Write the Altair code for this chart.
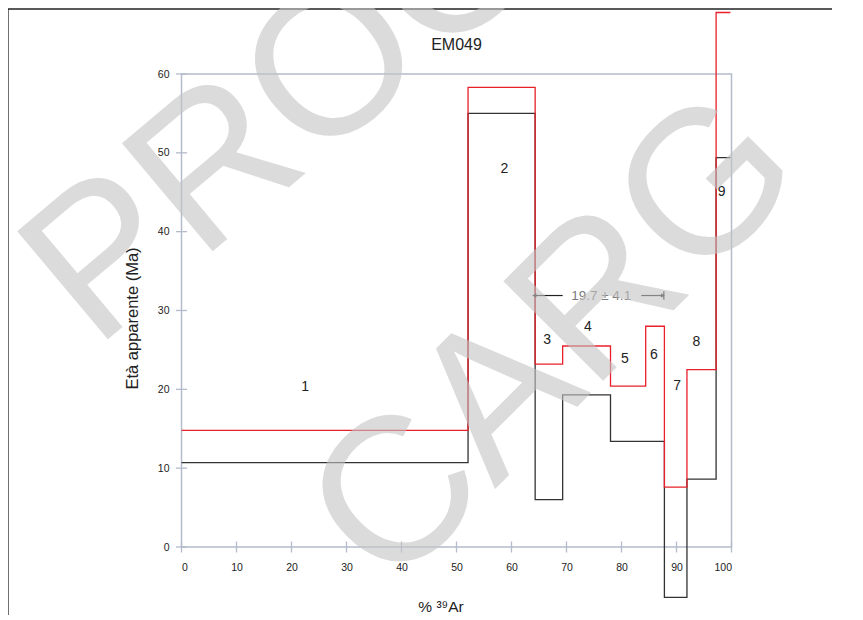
import altair as alt
import pandas as pd

# ---- data ----
bounds = [0, 52.1, 64.3, 69.3, 78.0, 84.4, 87.8, 91.9, 97.2, 99.8]
red_ages = [14.8, 58.3, 23.2, 25.5, 20.4, 28.0, 7.6, 22.5, 67.8]
black_ages = [10.7, 55.0, 6.0, 19.3, 13.4, 13.4, -6.4, 8.6, 49.4]

step_labels = ["1", "2", "3", "4", "5", "6", "7", "8", "9"]
label_x = [22.5, 58.7, 66.5, 73.9, 80.6, 85.9, 90.1, 93.6, 98.2]
label_y = [20.3, 48.0, 26.3, 27.9, 23.8, 24.4, 20.4, 26.0, 45.0]

x_ticks = [0, 10, 20, 30, 40, 50, 60, 70, 80, 90, 100]
y_ticks = [0, 10, 20, 30, 40, 50, 60]

plateau_from = 64.0
plateau_to = 87.7
plateau_age = 31.9
plateau_gap = [69.3, 83.6]
plateau_text = "19.7 ± 4.1"
plateau_text_x = 76.3

title_text = "EM049"
title_x = 50
title_y = 63.7

watermark_lines = ["PROGETTO", "CARG"]

FONT = "Liberation Sans"
W, H = 550, 473
FRAME = "#b3bccb"

# ---- tables ----
rows = []
for series, ages in (("black", black_ages), ("red", red_ages)):
    k = 0
    for i, a in enumerate(ages):
        rows.append({"s": series, "x": bounds[i], "y": a, "o": k}); k += 1
        rows.append({"s": series, "x": bounds[i + 1], "y": a, "o": k}); k += 1
steps = pd.DataFrame(rows)
labels = pd.DataFrame({"t": step_labels, "x": label_x, "y": label_y})

xs = alt.Scale(domain=[0, 100], nice=False, zero=False)
ys = alt.Scale(domain=[0, 60], nice=False, zero=False)

x_axis = alt.Axis(values=x_ticks, ticks=False, tickSize=0, domain=False, grid=False,
                  labelFont=FONT, labelFontSize=10.5, labelColor="#222", labelPadding=15,
                  title="% ³⁹Ar", titleFont=FONT, titleFontSize=15.5, titleFontWeight="normal",
                  titleColor="#222", titleX=259, titleY=59, titleBaseline="middle",
                  titleAlign="center")
y_axis = alt.Axis(values=y_ticks, ticks=False, tickSize=0, domain=False, grid=False,
                  labelFont=FONT, labelFontSize=10.5, labelColor="#222", labelPadding=12.5,
                  title="Età apparente (Ma)", titleFont=FONT, titleFontSize=16.5,
                  titleFontWeight="normal", titleColor="#222", titleX=-49, titleY=244,
                  titleAngle=270, titleBaseline="middle", titleAlign="center")


def X(field):
    return alt.X(field, scale=xs, axis=x_axis)


def Y(field):
    return alt.Y(field, scale=ys, axis=y_axis)


lines = alt.Chart(steps).mark_line(strokeWidth=1.3, interpolate="linear").encode(
    x=X("x:Q"), y=Y("y:Q"), order="o:Q",
    color=alt.Color("s:N", scale=alt.Scale(domain=["black", "red"], range=["#333333", "#e8202a"]),
                    legend=None),
)

xt = alt.Chart(pd.DataFrame({"t": x_ticks})).mark_rule(color=FRAME, strokeWidth=1.3).encode(
    x=X("t:Q"), y=alt.value(H - 5.5), y2=alt.value(H + 5.5))
yt = alt.Chart(pd.DataFrame({"t": y_ticks})).mark_rule(color=FRAME, strokeWidth=1.3).encode(
    y=Y("t:Q"), x=alt.value(-5.5), x2=alt.value(5.5))

lab = alt.Chart(labels).mark_text(font=FONT, fontSize=14, color="#222").encode(
    x=X("x:Q"), y=Y("y:Q"), text="t:N")

ttl = alt.Chart(pd.DataFrame({"t": [title_text], "x": [title_x], "y": [title_y]})).mark_text(
    font=FONT, fontSize=16, color="#222").encode(x=X("x:Q"), y=Y("y:Q"), text="t:N")

seg = pd.DataFrame({"a": [plateau_from, plateau_gap[1]], "b": [plateau_gap[0], plateau_to],
                    "y": [plateau_age, plateau_age]})
arrow_line = alt.Chart(seg).mark_rule(color="#222", strokeWidth=1.2).encode(
    x=X("a:Q"), x2="b:Q", y=Y("y:Q"))
head_l = alt.Chart(pd.DataFrame({"x": [plateau_from], "y": [plateau_age]})).mark_point(
    shape="M1,-0.5L0,0L1,0.5", filled=False, size=36, color="#222", strokeWidth=1.2,
    opacity=1).encode(x=X("x:Q"), y=Y("y:Q"))
head_r = alt.Chart(pd.DataFrame({"x": [plateau_to], "y": [plateau_age]})).mark_point(
    shape="M-1,-0.5L0,0L-1,0.5M0,-1.4L0,1.4", filled=False, size=36, color="#222",
    strokeWidth=1.2, opacity=1).encode(x=X("x:Q"), y=Y("y:Q"))
ptext = alt.Chart(pd.DataFrame({"t": [plateau_text], "x": [plateau_text_x], "y": [plateau_age]})).mark_text(
    font=FONT, fontSize=13.5, color="#7a7a7a", baseline="middle").encode(
    x=X("x:Q"), y=Y("y:Q"), text="t:N")

# outer frame of the page (decoration)
frame_top = alt.Chart(pd.DataFrame({"k": [0]})).mark_rule(color="#222", strokeWidth=1.3).encode(
    x=alt.value(-173.5), x2=alt.value(700), y=alt.value(-65))
frame_left = alt.Chart(pd.DataFrame({"k": [0]})).mark_rule(color="#222", strokeWidth=1.3).encode(
    x=alt.value(-173.5), y=alt.value(-65), y2=alt.value(560))

wm1 = alt.Chart(pd.DataFrame({"t": [watermark_lines[0]]})).mark_text(
    font=FONT, fontSize=205, color="#c4c4c4", opacity=0.6, angle=320, align="left",
    baseline="alphabetic").encode(x=alt.value(95 - 181.5), y=alt.value(350 - 74), text="t:N")
wm2 = alt.Chart(pd.DataFrame({"t": [watermark_lines[1]]})).mark_text(
    font=FONT, fontSize=205, color="#c4c4c4", opacity=0.6, angle=315, align="left",
    baseline="alphabetic").encode(x=alt.value(390 - 181.5), y=alt.value(594 - 74), text="t:N")

chart = alt.layer(
    frame_top, frame_left, xt, yt, lines, lab, ttl, arrow_line, head_l, head_r, ptext, wm1, wm2
).properties(
    width=W, height=H,
    autosize=alt.AutoSizeParams(type="none"),
    padding={"left": 173.5, "top": 66, "right": 100, "bottom": 68},
).configure_view(stroke=FRAME, strokeWidth=1.5)

chart.save("out.html", embed_options={"renderer": "svg", "actions": False})
